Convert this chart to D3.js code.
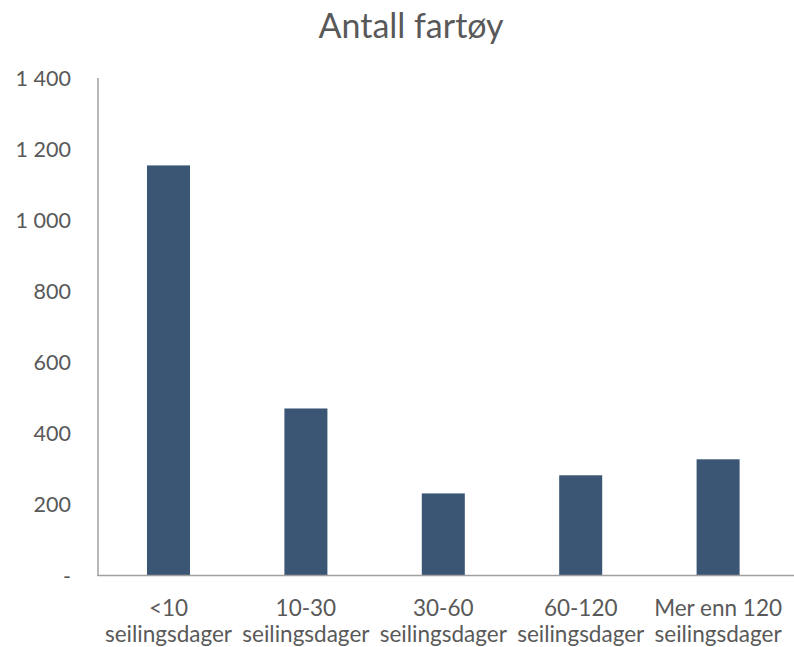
<!DOCTYPE html>
<html><head><meta charset="utf-8">
<script src="https://cdn.jsdelivr.net/npm/d3@7"></script>
<style>body{margin:0;background:#fff}</style>
</head><body>
<svg id="c" width="794" height="647"></svg>
<script>
const title = "Antall fartøy";
const categories = [["<10","seilingsdager"],["10-30","seilingsdager"],["30-60","seilingsdager"],["60-120","seilingsdager"],["Mer enn 120","seilingsdager"]];
const values = [1154, 470, 231, 282, 327];
const yTicks = [0, 200, 400, 600, 800, 1000, 1200, 1400];

const svg = d3.select("#c");
const font = "Lato, 'Open Sans', sans-serif";
const textColor = "#595959";
const x = d3.scaleBand().domain(categories.map((d,i)=>i)).range([99.8, 786.8]).paddingInner(0.687).paddingOuter(0.3435);
const y = d3.scaleLinear().domain([0, 1400]).range([575.5, 78]);

svg.selectAll("rect.bar").data(values).enter().append("rect")
  .attr("class","bar")
  .attr("x",(d,i)=>x(i)).attr("width",x.bandwidth())
  .attr("y",d=>y(d)).attr("height",d=>y(0)-y(d))
  .attr("fill","#3A5674");

const fmt = v => v===0 ? "-" : d3.format(",")(v).replace(/,/g," ");
const yAxis = svg.append("g");
yAxis.selectAll("text").data(yTicks).enter().append("text")
  .attr("x",71).attr("y",d=>y(d)+8)
  .attr("text-anchor","end").attr("font-family",font).attr("font-size",21.5)
  .attr("fill",textColor).text(fmt);

svg.append("line").attr("x1",98).attr("x2",98).attr("y1",78).attr("y2",575.5)
  .attr("stroke","#A0A0A0").attr("stroke-width",1.5);
svg.append("line").attr("x1",97).attr("x2",794).attr("y1",575.5).attr("y2",575.5)
  .attr("stroke","#A0A0A0").attr("stroke-width",1.5);

const xl = svg.append("g");
categories.forEach((c,i)=>{
  const t = xl.append("text").attr("text-anchor","middle").attr("font-family",font)
    .attr("font-size",22.5).attr("fill",textColor);
  t.append("tspan").attr("x",x(i)+x.bandwidth()/2).attr("y",616).text(c[0]);
  t.append("tspan").attr("x",x(i)+x.bandwidth()/2).attr("y",642).text(c[1]);
});

svg.append("text").attr("x",411).attr("y",38).attr("text-anchor","middle")
  .attr("font-family",font).attr("font-size",34).attr("fill",textColor).text(title);
</script>
</body></html>
